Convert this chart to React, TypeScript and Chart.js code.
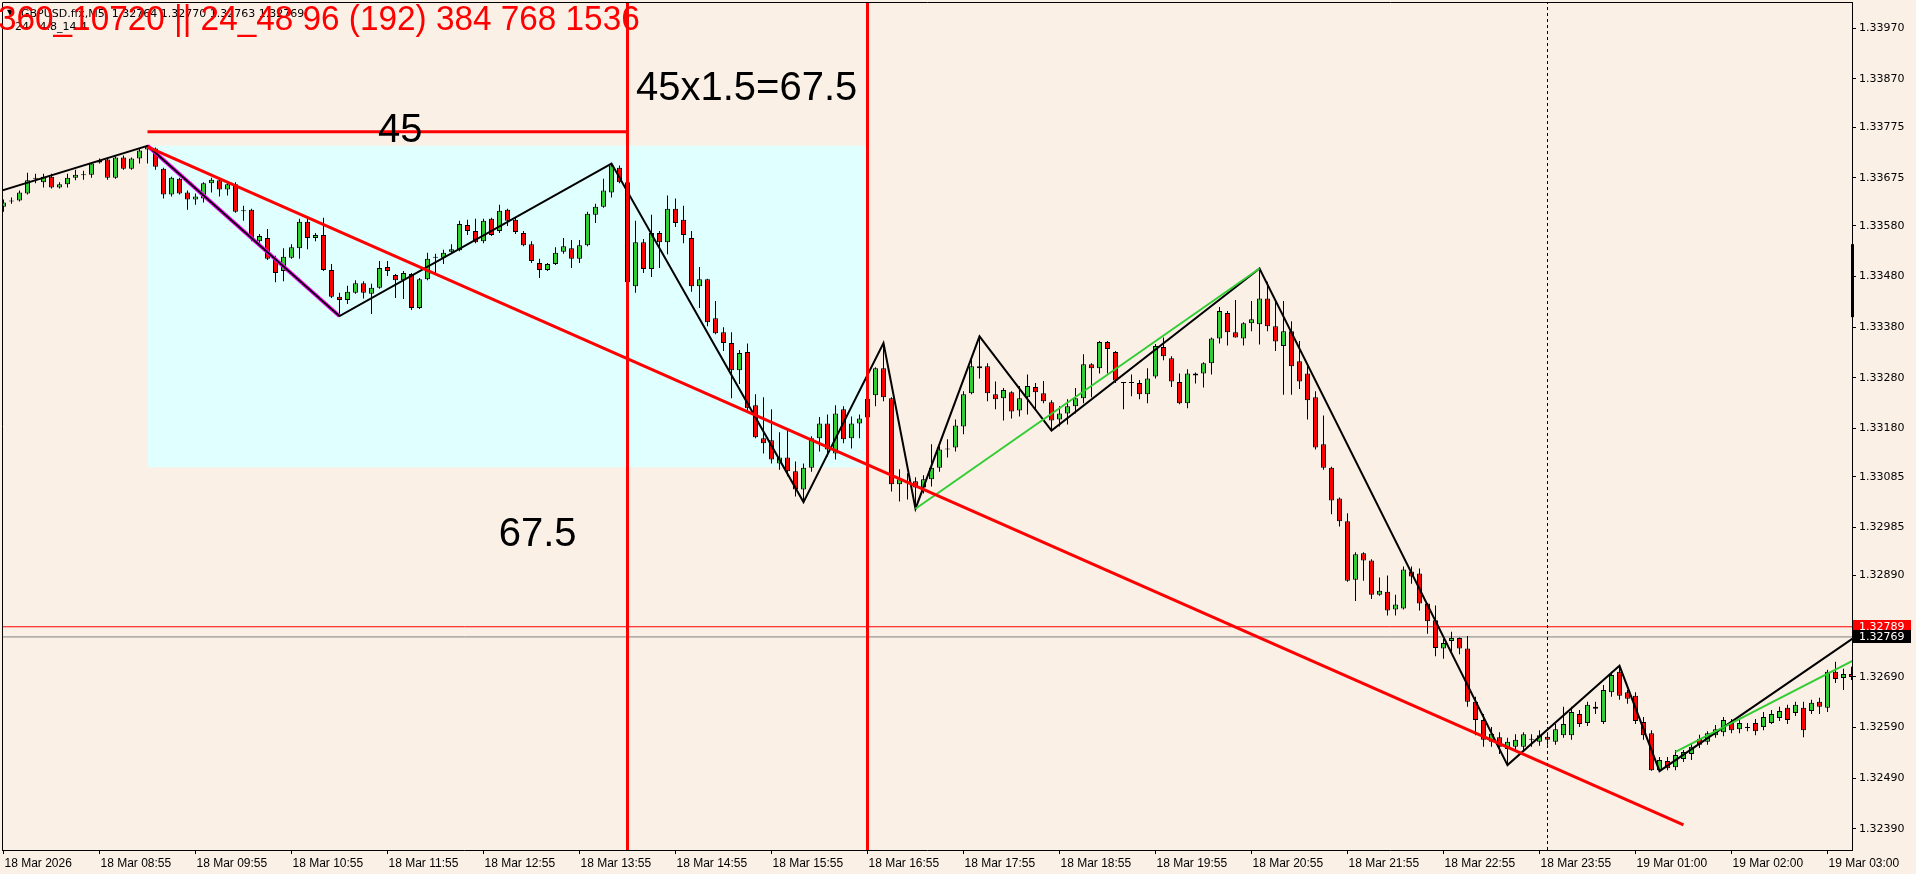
import React, { useEffect, useRef } from 'react';
import { Chart, registerables } from 'chart.js';

Chart.register(...registerables);

const W = 1916;
const H = 874;

// GBPUSD.ffx M5 candles, index 0 = 18 Mar 07:55
const open = [
  1.33618,1.33628,1.33630,1.33644,1.33673,1.33666,1.33677,1.33656,1.33662,1.33675,
  1.33681,1.33681,1.33705,1.33711,1.33675,1.33715,1.33693,1.33713,1.33731,1.33733,
  1.33693,1.33642,1.33673,1.33646,1.33632,1.33634,1.33664,1.33670,1.33652,1.33662,
  1.33610,1.33612,1.33550,1.33556,1.33515,1.33491,1.33517,1.33536,1.33588,1.33556,
  1.33562,1.33493,1.33440,1.33434,1.33448,1.33467,1.33446,1.33458,1.33499,1.33483,
  1.33473,1.33485,1.33418,1.33475,1.33517,1.33517,1.33529,1.33532,1.33582,1.33570,
  1.33550,1.33594,1.33570,1.33612,1.33592,1.33566,1.33544,1.33507,1.33493,1.33505,
  1.33529,1.33536,1.33515,1.33542,1.33602,1.33618,1.33646,1.33695,1.33666,1.33461,
  1.33548,1.33495,1.33566,1.33548,1.33614,1.33592,1.33556,1.33461,1.33475,1.33398,
  1.33370,1.33349,1.33295,1.33331,1.33226,1.33161,1.33157,1.33111,1.33123,1.33096,
  1.33060,1.33103,1.33161,1.33190,1.33131,1.33218,1.33161,1.33190,1.33202,1.33246,
  1.33299,1.33240,1.33070,1.33072,1.33076,1.33064,1.33080,1.33103,1.33139,1.33143,
  1.33184,1.33250,1.33299,1.33303,1.33248,1.33240,1.33252,1.33216,1.33242,1.33262,
  1.33250,1.33232,1.33198,1.33210,1.33224,1.33240,1.33307,1.33299,1.33351,1.33331,
  1.33270,1.33271,1.33270,1.33248,1.33283,1.33341,1.33319,1.33272,1.33230,1.33285,
  1.33289,1.33309,1.33358,1.33408,1.33370,1.33358,1.33388,1.33386,1.33437,1.33382,
  1.33343,1.33372,1.33313,1.33289,1.33242,1.33149,1.33103,1.33042,1.32997,1.32882,
  1.32934,1.32920,1.32852,1.32858,1.32823,1.32825,1.32898,1.32894,1.32835,1.32802,
  1.32746,1.32761,1.32767,1.32746,1.32641,1.32605,1.32562,1.32571,1.32548,1.32552,
  1.32552,1.32566,1.32562,1.32572,1.32562,1.32575,1.32575,1.32617,1.32599,1.32631,
  1.32601,1.32660,1.32700,1.32660,1.32653,1.32601,1.32579,1.32506,1.32524,1.32512,
  1.32528,1.32538,1.32568,1.32562,1.32575,1.32581,1.32599,1.32587,1.32589,1.32599,
  1.32591,1.32599,1.32609,1.32629,1.32619,1.32629,1.32623,1.32641,1.32629,1.32700,
  1.32688,1.32696,
];
const high = [
  1.33632,1.33636,1.33650,1.33685,1.33683,1.33683,1.33683,1.33666,1.33683,1.33691,
  1.33689,1.33705,1.33713,1.33715,1.33717,1.33719,1.33715,1.33733,1.33738,1.33735,
  1.33695,1.33677,1.33675,1.33650,1.33644,1.33666,1.33675,1.33673,1.33666,1.33666,
  1.33620,1.33614,1.33564,1.33574,1.33521,1.33536,1.33544,1.33594,1.33594,1.33566,
  1.33596,1.33505,1.33448,1.33462,1.33473,1.33471,1.33466,1.33511,1.33511,1.33485,
  1.33491,1.33487,1.33477,1.33527,1.33525,1.33533,1.33544,1.33590,1.33592,1.33594,
  1.33594,1.33596,1.33622,1.33614,1.33596,1.33570,1.33550,1.33515,1.33507,1.33538,
  1.33556,1.33552,1.33552,1.33608,1.33624,1.33673,1.33703,1.33699,1.33672,1.33590,
  1.33554,1.33602,1.33570,1.33640,1.33634,1.33620,1.33570,1.33499,1.33476,1.33432,
  1.33380,1.33370,1.33335,1.33348,1.33248,1.33242,1.33218,1.33173,1.33181,1.33115,
  1.33111,1.33165,1.33203,1.33208,1.33226,1.33224,1.33204,1.33208,1.33258,1.33301,
  1.33349,1.33242,1.33100,1.33092,1.33084,1.33088,1.33149,1.33145,1.33159,1.33198,
  1.33254,1.33319,1.33362,1.33309,1.33273,1.33260,1.33254,1.33264,1.33287,1.33270,
  1.33274,1.33236,1.33224,1.33238,1.33260,1.33327,1.33309,1.33353,1.33353,1.33333,
  1.33272,1.33287,1.33276,1.33299,1.33347,1.33360,1.33323,1.33289,1.33297,1.33291,
  1.33311,1.33360,1.33420,1.33412,1.33434,1.33390,1.33432,1.33496,1.33470,1.33432,
  1.33432,1.33392,1.33353,1.33303,1.33254,1.33206,1.33105,1.33044,1.33013,1.32936,
  1.32936,1.32922,1.32886,1.32890,1.32852,1.32908,1.32908,1.32904,1.32836,1.32831,
  1.32765,1.32779,1.32768,1.32771,1.32651,1.32617,1.32591,1.32581,1.32570,1.32577,
  1.32581,1.32577,1.32585,1.32581,1.32597,1.32631,1.32631,1.32625,1.32641,1.32641,
  1.32674,1.32700,1.32712,1.32664,1.32660,1.32611,1.32585,1.32532,1.32532,1.32546,
  1.32546,1.32558,1.32576,1.32583,1.32595,1.32611,1.32607,1.32605,1.32599,1.32607,
  1.32621,1.32625,1.32631,1.32635,1.32641,1.32641,1.32645,1.32649,1.32704,1.32720,
  1.32706,1.32710,
];
const low = [
  1.33608,1.33624,1.33628,1.33642,1.33664,1.33656,1.33654,1.33654,1.33656,1.33670,
  1.33671,1.33675,1.33703,1.33671,1.33673,1.33691,1.33691,1.33703,1.33703,1.33691,
  1.33634,1.33638,1.33642,1.33612,1.33622,1.33626,1.33646,1.33638,1.33640,1.33606,
  1.33590,1.33550,1.33540,1.33513,1.33469,1.33471,1.33515,1.33515,1.33534,1.33550,
  1.33491,1.33438,1.33402,1.33426,1.33446,1.33437,1.33406,1.33456,1.33481,1.33438,
  1.33436,1.33414,1.33416,1.33473,1.33487,1.33505,1.33525,1.33530,1.33562,1.33546,
  1.33546,1.33560,1.33566,1.33580,1.33564,1.33540,1.33507,1.33477,1.33491,1.33503,
  1.33525,1.33497,1.33507,1.33540,1.33586,1.33616,1.33636,1.33664,1.33467,1.33448,
  1.33487,1.33479,1.33497,1.33524,1.33578,1.33546,1.33450,1.33418,1.33382,1.33366,
  1.33333,1.33240,1.33268,1.33214,1.33161,1.33131,1.33111,1.33099,1.33086,1.33046,
  1.33035,1.33095,1.33135,1.33125,1.33119,1.33151,1.33141,1.33161,1.33190,1.33224,
  1.33234,1.33056,1.33036,1.33040,1.33022,1.33052,1.33066,1.33095,1.33123,1.33135,
  1.33169,1.33248,1.33279,1.33234,1.33218,1.33196,1.33200,1.33204,1.33208,1.33216,
  1.33230,1.33176,1.33184,1.33188,1.33210,1.33230,1.33242,1.33289,1.33289,1.33270,
  1.33218,1.33244,1.33238,1.33230,1.33279,1.33315,1.33262,1.33228,1.33220,1.33269,
  1.33261,1.33287,1.33348,1.33344,1.33360,1.33344,1.33372,1.33346,1.33372,1.33333,
  1.33247,1.33247,1.33258,1.33198,1.33139,1.33099,1.33011,1.32987,1.32878,1.32840,
  1.32880,1.32844,1.32850,1.32811,1.32811,1.32823,1.32874,1.32821,1.32775,1.32731,
  1.32726,1.32740,1.32735,1.32631,1.32575,1.32552,1.32552,1.32538,1.32516,1.32542,
  1.32546,1.32552,1.32554,1.32556,1.32556,1.32570,1.32566,1.32591,1.32593,1.32617,
  1.32597,1.32651,1.32645,1.32637,1.32597,1.32566,1.32505,1.32504,1.32506,1.32506,
  1.32522,1.32526,1.32550,1.32556,1.32570,1.32573,1.32579,1.32579,1.32583,1.32575,
  1.32585,1.32597,1.32603,1.32597,1.32613,1.32571,1.32617,1.32617,1.32621,1.32678,
  1.32664,1.32684,
];
const close = [
  1.33626,1.33630,1.33646,1.33670,1.33674,1.33677,1.33656,1.33662,1.33675,1.33681,
  1.33680,1.33703,1.33709,1.33675,1.33715,1.33693,1.33713,1.33729,1.33736,1.33697,
  1.33642,1.33675,1.33644,1.33632,1.33638,1.33664,1.33671,1.33652,1.33662,1.33608,
  1.33609,1.33556,1.33560,1.33515,1.33487,1.33519,1.33538,1.33588,1.33556,1.33562,
  1.33493,1.33440,1.33434,1.33450,1.33467,1.33448,1.33458,1.33497,1.33491,1.33473,
  1.33487,1.33418,1.33475,1.33515,1.33518,1.33527,1.33534,1.33584,1.33570,1.33548,
  1.33590,1.33562,1.33610,1.33590,1.33568,1.33542,1.33511,1.33493,1.33505,1.33527,
  1.33540,1.33515,1.33542,1.33604,1.33618,1.33650,1.33699,1.33666,1.33469,1.33548,
  1.33495,1.33566,1.33548,1.33614,1.33586,1.33562,1.33461,1.33475,1.33390,1.33368,
  1.33349,1.33295,1.33329,1.33220,1.33163,1.33151,1.33119,1.33123,1.33096,1.33060,
  1.33103,1.33161,1.33190,1.33139,1.33210,1.33159,1.33190,1.33200,1.33239,1.33299,
  1.33242,1.33070,1.33080,1.33074,1.33064,1.33080,1.33103,1.33139,1.33140,1.33186,
  1.33248,1.33303,1.33303,1.33250,1.33238,1.33256,1.33214,1.33240,1.33264,1.33252,
  1.33234,1.33196,1.33210,1.33224,1.33240,1.33307,1.33299,1.33351,1.33337,1.33275,
  1.33271,1.33270,1.33248,1.33279,1.33343,1.33323,1.33273,1.33230,1.33289,1.33289,
  1.33309,1.33358,1.33412,1.33370,1.33360,1.33388,1.33396,1.33437,1.33382,1.33352,
  1.33372,1.33303,1.33273,1.33236,1.33143,1.33103,1.33038,1.32997,1.32880,1.32932,
  1.32920,1.32852,1.32860,1.32821,1.32833,1.32902,1.32888,1.32835,1.32800,1.32747,
  1.32757,1.32767,1.32746,1.32641,1.32605,1.32566,1.32578,1.32552,1.32562,1.32566,
  1.32577,1.32568,1.32575,1.32566,1.32587,1.32597,1.32621,1.32597,1.32635,1.32627,
  1.32664,1.32694,1.32653,1.32647,1.32603,1.32575,1.32506,1.32526,1.32510,1.32536,
  1.32542,1.32552,1.32556,1.32579,1.32587,1.32605,1.32585,1.32599,1.32590,1.32583,
  1.32611,1.32617,1.32623,1.32605,1.32635,1.32585,1.32639,1.32631,1.32700,1.32686,
  1.32696,1.32690,
];

// Axis ticks
const xTickIndex = [0, 12, 24, 36, 48, 60, 72, 84, 96, 108, 120, 132, 144, 156, 168, 180, 192, 204, 216, 228];
const xTickLabels = [
  '18 Mar 2026', '18 Mar 08:55', '18 Mar 09:55', '18 Mar 10:55', '18 Mar 11:55', '18 Mar 12:55',
  '18 Mar 13:55', '18 Mar 14:55', '18 Mar 15:55', '18 Mar 16:55', '18 Mar 17:55', '18 Mar 18:55',
  '18 Mar 19:55', '18 Mar 20:55', '18 Mar 21:55', '18 Mar 22:55', '18 Mar 23:55', '19 Mar 01:00',
  '19 Mar 02:00', '19 Mar 03:00',
];
const yTickValues = [
  1.3397, 1.3387, 1.33775, 1.33675, 1.3358, 1.3348, 1.3338, 1.3328, 1.3318, 1.33085,
  1.32985, 1.3289, 1.3269, 1.3259, 1.3249, 1.3239,
];

// Visible range
const X_MIN = -0.1875;
const X_MAX = 231.0625;
const Y_MIN = 1.323485;
const Y_MAX = 1.340199;

// ZigZag indicator
const zigzagIdx = [-1, 18, 42, 76, 100, 110, 114, 122, 131, 157, 188, 202, 207, 232];
const zigzagPrice = [1.33646, 1.33738, 1.33402, 1.33703, 1.33035, 1.33349, 1.33022, 1.33362, 1.33176, 1.33496, 1.32516, 1.32712, 1.32504, 1.32775];
// purple leg
const purpleIdx = [18, 42];
const purplePrice = [1.33738, 1.33402];
// green lines
const green1Idx = [114, 157];
const green1Price = [1.33022, 1.33496];
const green2Idx = [209, 232];
const green2Price = [1.32542, 1.32729];
// red trend line
const trendIdx = [18, 210];
const trendPrice = [1.33736, 1.32398];
// red horizontal "45" line
const hLineIdx = [18, 78];
const hLinePrice = 1.33766;
// red vertical lines
const vLineIdx = [78, 108];
// dashed period separator
const sepIdx = 193;
// cyan rectangle
const rectIdx = [18, 108];
const rectTop = 1.33738;
const rectBottom = 1.33104;
// bid / ask lines
const askPrice = 1.32789;
const bidPrice = 1.32769;
// axis marker
const markerTop = 1.33544;
const markerBottom = 1.334;

// text labels
const textLabels = ['45', '45x1.5=67.5', '67.5'];
const textIdx = [46.8, 79.06, 61.9];
const textPrice = [1.33746, 1.33828, 1.32948];

const headerRed = '360_10720 || 24_48 96 (192) 384 768 1536';
const headerLine1 = 'GBPUSD.ffx,M5  1.32764 1.32770 1.32763 1.32769';
const headerLine2 = '24   4.8_14.4';

const BG = '#FAF0E6';
const CYAN = '#E0FFFF';
const GREEN = '#32CD32';
const RED = '#FF0000';

const seg = (xs: number[], ys: number[]) => xs.map((v, k) => ({ x: v, y: ys[k] }));

const bgPlugin = {
  id: 'bgFill',
  beforeDraw(chart: any) {
    const { ctx } = chart;
    ctx.save();
    ctx.fillStyle = BG;
    ctx.fillRect(0, 0, chart.width, chart.height);
    ctx.restore();
  },
};

const overlayPlugin = {
  id: 'overlay',
  afterDraw(chart: any) {
    const { ctx, chartArea: a } = chart;
    const xs = chart.scales.x;
    const ys = chart.scales.y;
    ctx.save();
    // frame (left/top)
    ctx.strokeStyle = '#000';
    ctx.lineWidth = 1;
    ctx.beginPath();
    ctx.moveTo(a.left + 0.5, a.bottom);
    ctx.lineTo(a.left + 0.5, a.top - 0.5);
    ctx.lineTo(a.right + 1, a.top - 0.5);
    ctx.stroke();

    // axis marker
    const mt = ys.getPixelForValue(markerTop);
    const mb = ys.getPixelForValue(markerBottom);
    ctx.fillStyle = '#000';
    ctx.fillRect(a.right - 1, mt, 3, mb - mt);

    // bid/ask boxes
    const boxes = [
      { v: askPrice, c: RED },
      { v: bidPrice, c: '#000' },
    ];
    ctx.font = '11px "DejaVu Sans"';
    ctx.textBaseline = 'middle';
    ctx.textAlign = 'left';
    boxes.forEach((b) => {
      const yy = ys.getPixelForValue(b.v);
      ctx.fillStyle = b.c;
      ctx.fillRect(a.right + 1, Math.round(yy - 6.5), 58, 13);
      ctx.fillStyle = '#fff';
      ctx.fillText(b.v.toFixed(5), a.right + 7, yy);
    });

    // chart texts
    ctx.fillStyle = '#000';
    ctx.font = '40px "Liberation Sans", Arial, sans-serif';
    ctx.textBaseline = 'alphabetic';
    textLabels.forEach((t, k) => {
      ctx.fillText(t, xs.getPixelForValue(textIdx[k]), ys.getPixelForValue(textPrice[k]));
    });

    // header (black)
    ctx.font = '11px "DejaVu Sans"';
    ctx.fillText(headerLine1, 21, 16.5);
    ctx.fillText(headerLine2, 15, 29.5);
    ctx.font = '8px "DejaVu Sans"';
    ctx.fillText('\u25BC', 7, 15);

    // header (red)
    ctx.fillStyle = RED;
    ctx.font = '35px "Liberation Sans", Arial, sans-serif';
    ctx.save();
    ctx.translate(-2, 30);
    ctx.scale(0.952, 1);
    ctx.fillText(headerRed, 0, 0);
    ctx.restore();

    ctx.restore();
  },
};

export default function App() {
  const ref = useRef<HTMLCanvasElement | null>(null);

  useEffect(() => {
    document.body.style.margin = '0';
    const canvas = ref.current;
    if (!canvas) return;
    const idx = open.map((_, i) => i);
    const wickData = idx.map((i) => ({ x: i, y: [low[i], high[i]] }));
    const bodyData = idx.map((i) => ({ x: i, y: [open[i], close[i]] }));
    const bodyColors = idx.map((i) => (close[i] >= open[i] ? GREEN : RED));

    const lineBase = { type: 'line', pointRadius: 0, tension: 0, fill: false, borderCapStyle: 'butt' };

    const chart = new Chart(canvas, {
      type: 'bar',
      data: {
        datasets: [
          {
            ...lineBase,
            data: seg(rectIdx, [rectTop, rectTop]),
            borderWidth: 0,
            borderColor: CYAN,
            backgroundColor: CYAN,
            fill: { value: rectBottom },
            order: 100,
          },
          {
            ...lineBase,
            data: seg([X_MIN, X_MAX], [askPrice, askPrice]),
            borderColor: RED,
            borderWidth: 1,
            order: 90,
          },
          {
            ...lineBase,
            data: seg([X_MIN, X_MAX], [bidPrice, bidPrice]),
            borderColor: '#808080',
            borderWidth: 1,
            order: 89,
          },
          {
            type: 'bar',
            data: wickData,
            backgroundColor: '#000',
            borderWidth: 0,
            barThickness: 1,
            grouped: false,
            inflateAmount: 0,
            order: 50,
          },
          {
            type: 'bar',
            data: bodyData,
            backgroundColor: bodyColors,
            borderColor: '#000',
            borderWidth: 1,
            borderSkipped: false,
            barThickness: 5,
            grouped: false,
            inflateAmount: 0,
            minBarLength: 1,
            order: 49,
          },
          {
            ...lineBase,
            data: seg(purpleIdx, purplePrice),
            borderColor: '#FF00FF',
            borderWidth: 4,
            order: 31,
          },
          {
            ...lineBase,
            data: seg(zigzagIdx, zigzagPrice),
            borderColor: '#000',
            borderWidth: 2,
            order: 30,
          },
          {
            ...lineBase,
            data: seg(green1Idx, green1Price),
            borderColor: GREEN,
            borderWidth: 2,
            order: 29,
          },
          {
            ...lineBase,
            data: seg(green2Idx, green2Price),
            borderColor: GREEN,
            borderWidth: 2,
            order: 28,
          },
          {
            ...lineBase,
            data: seg(trendIdx, trendPrice),
            borderColor: RED,
            borderWidth: 3,
            order: 10,
          },
          {
            ...lineBase,
            data: seg(hLineIdx, [hLinePrice, hLinePrice]),
            borderColor: RED,
            borderWidth: 3,
            order: 9,
          },
          {
            ...lineBase,
            data: seg([vLineIdx[0], vLineIdx[0]], [Y_MIN, Y_MAX]),
            borderColor: RED,
            borderWidth: 3,
            order: 8,
          },
          {
            ...lineBase,
            data: seg([vLineIdx[1], vLineIdx[1]], [Y_MIN, Y_MAX]),
            borderColor: RED,
            borderWidth: 3,
            order: 7,
          },
          {
            ...lineBase,
            data: seg([sepIdx, sepIdx], [Y_MIN, Y_MAX]),
            borderColor: '#000',
            borderWidth: 1,
            borderDash: [3, 3],
            order: 6,
          },
        ] as any,
      },
      options: {
        animation: false,
        responsive: false,
        devicePixelRatio: 1,
        events: [],
        layout: { padding: { left: 2, top: 3, right: 0, bottom: 0 } },
        plugins: {
          legend: { display: false },
          tooltip: { enabled: false },
          filler: { propagate: false },
        },
        scales: {
          x: {
            type: 'linear',
            position: 'bottom',
            min: X_MIN,
            max: X_MAX,
            offset: false,
            afterBuildTicks: (s: any) => {
              s.ticks = xTickIndex.map((v) => ({ value: v }));
            },
            afterFit: (s: any) => {
              s.height = 24;
              s.paddingLeft = 0;
              s.paddingRight = 0;
            },
            ticks: {
              autoSkip: false,
              maxRotation: 0,
              minRotation: 0,
              align: 'start',
              padding: 2,
              labelOffset: 1,
              color: '#000',
              font: { family: '"Liberation Sans Narrow", "Liberation Sans", sans-serif', size: 12 },
              callback: (_v: any, i: number) => xTickLabels[i],
            },
            grid: { drawOnChartArea: false, drawTicks: true, tickLength: 4, color: '#000', offset: false },
            border: { display: true, color: '#000', width: 1 },
          },
          y: {
            type: 'linear',
            position: 'right',
            min: Y_MIN,
            max: Y_MAX,
            afterBuildTicks: (s: any) => {
              s.ticks = yTickValues.map((v) => ({ value: v }));
            },
            afterFit: (s: any) => {
              s.width = 64;
              s.paddingTop = 0;
              s.paddingBottom = 0;
            },
            ticks: {
              padding: 3,
              color: '#000',
              font: { family: '"DejaVu Sans", sans-serif', size: 11 },
              callback: (v: any) => Number(v).toFixed(5),
            },
            grid: { drawOnChartArea: false, drawTicks: true, tickLength: 4, color: '#000' },
            border: { display: true, color: '#000', width: 1 },
          },
        },
      } as any,
      plugins: [bgPlugin, overlayPlugin],
    });
    return () => chart.destroy();
  }, []);

  return (
    <canvas
      ref={ref}
      width={W}
      height={H}
      style={{ display: 'block', position: 'fixed', left: 0, top: 0, width: W, height: H }}
    />
  );
}
